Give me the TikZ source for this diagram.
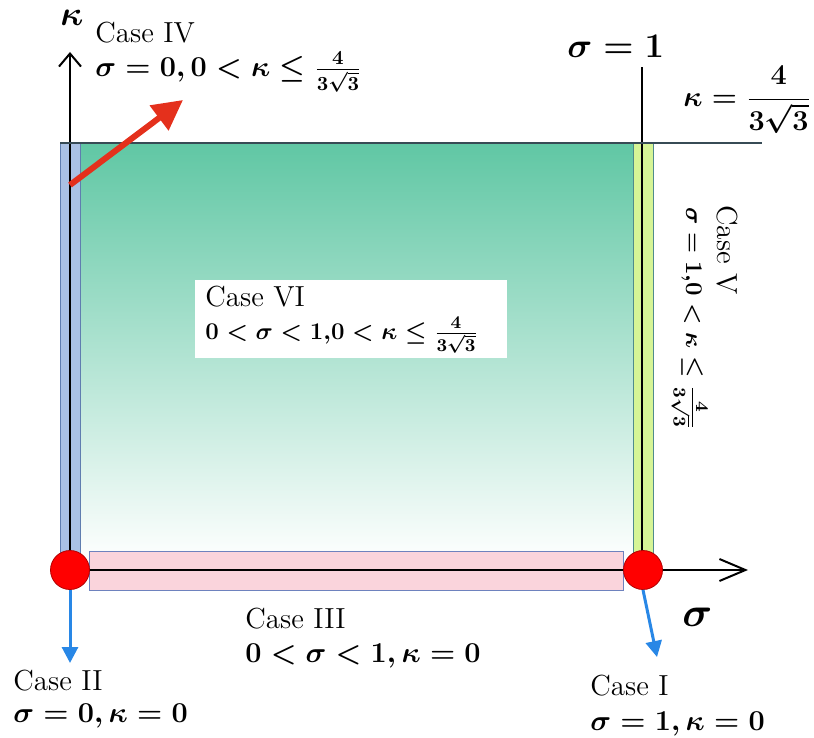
\documentclass[tikz,border=0pt]{standalone}
\usepackage{amsmath}
\usetikzlibrary{arrows.meta}
\definecolor{gtop}{RGB}{96,199,164}
\definecolor{bfill}{RGB}{170,193,228}
\definecolor{bdraw}{RGB}{95,125,175}
\definecolor{yfill}{RGB}{214,245,150}
\definecolor{ydraw}{RGB}{80,140,140}
\definecolor{pfill}{RGB}{250,212,220}
\definecolor{pdraw}{RGB}{110,130,190}
\definecolor{kcol}{RGB}{55,75,85}
\definecolor{redarrow}{RGB}{228,48,28}
\definecolor{bluearrow}{RGB}{40,135,230}
\newcommand{\bmath}[1]{$\boldsymbol{#1}$}
\begin{document}
\begin{tikzpicture}[x=0.5pt,y=-0.5pt,
  txt/.style={inner sep=0pt, anchor=base west, font=\fontsize{14.5}{17}\selectfont},
  stxt/.style={inner sep=0pt, anchor=base west, font=\fontsize{12.5}{15}\selectfont},
  axis/.style={line width=1pt, black},
  bstrip/.style={fill=bfill, draw=bdraw, line width=0.5pt},
  ystrip/.style={fill=yfill, draw=ydraw, line width=0.5pt},
  pstrip/.style={fill=pfill, draw=pdraw, line width=0.5pt},
  dot/.style={circle, fill=red, draw=red!70!black, line width=0.4pt, minimum size=19.5pt, inner sep=0pt},
  barrow/.style={bluearrow, line width=1.5pt, -{Triangle[length=8pt,width=8pt]}},
  rarrow/.style={redarrow, line width=3pt, -{Triangle[length=15pt,width=15pt]}}]
\useasboundingbox (0,0) rectangle (814,738);
% green region
\shade[top color=gtop, bottom color=white] (62,143) rectangle (648,562);
% strips
\draw[bstrip] (60,143) rectangle (80,565);
\draw[ystrip] (633,143) rectangle (653,565);
\draw[pstrip] (89,551) rectangle (623,590);
% axes and lines
\coordinate (O) at (70,570);
\coordinate (ytip) at (70,52);
\coordinate (xtip) at (748,570);
\coordinate (s1top) at (642,67);
\coordinate (s1bot) at (642,570);
\coordinate (kl) at (60,143);
\coordinate (kr) at (762,143);
\draw[axis, -{Straight Barb[length=6.5pt,width=11pt]}] (O) -- (ytip);
\draw[axis, -{Straight Barb[length=13pt,width=11pt]}] (O) -- (xtip);
\draw[axis] (s1bot) -- (s1top);
\draw[line width=1pt, kcol] (kl) -- (kr);
% red points
\node[dot] (p0) at (70,570) {};
\node[dot] (p1) at (643,570) {};
% arrows
\coordinate (c2tip) at (70,663);
\coordinate (c1tip) at (657,657);
\draw[barrow] (p0.south) -- (c2tip);
\draw[barrow] (p1.south) -- (c1tip);
\coordinate (rtail) at (70,185);
\coordinate (rtip) at (183,100);
\draw[rarrow] (rtail) -- (rtip);
% Case VI box
\node[fill=white, inner sep=0pt, minimum width=156pt, minimum height=39pt, anchor=north west] (c6box) at (195,280) {};
% labels
\node[inner sep=0pt, anchor=base west, font=\fontsize{16}{18}\selectfont] (klab) at (60,26) {\bmath{\kappa}};
\node[inner sep=0pt, anchor=base west, font=\fontsize{21}{24}\selectfont] (slab) at (682,626) {\bmath{\sigma}};
\node[txt] (c4t) at (95,43) {Case IV};
\node[txt] (c4f) at (95,77) {\bmath{\sigma=0,0<\kappa\le\frac{4}{3\sqrt{3}}}};
\node[inner sep=0pt, anchor=base west, font=\fontsize{18}{20}\selectfont] (s1lab) at (567,58) {\bmath{\sigma=1}};
\node[inner sep=0pt, anchor=west, font=\fontsize{15}{17}\selectfont] (klab2) at (683,100) {\bmath{\displaystyle\kappa=\frac{4}{3\sqrt{3}}}};
\node[txt] (c6t) at (205,306) {Case VI};
\node[stxt] (c6f) at (205,339) {\bmath{0<\sigma<1{,}0<\kappa\le\frac{4}{3\sqrt{3}}}};
\node[txt, rotate=-90] (c5t) at (717,205) {Case V};
\node[stxt, rotate=-90] (c5f) at (686,207) {\bmath{\sigma=1{,}0<\kappa\le\frac{4}{3\sqrt{3}}}};
\node[txt] (c3t) at (245,628) {Case III};
\node[txt] (c3f) at (245,662) {\bmath{0<\sigma<1,\kappa=0}};
\node[txt] (c2t) at (13,690) {Case II};
\node[txt] (c2f) at (13,722) {\bmath{\sigma=0,\kappa=0}};
\node[txt] (c1t) at (590,695) {Case I};
\node[txt] (c1f) at (590,730) {\bmath{\sigma=1,\kappa=0}};
\end{tikzpicture}
\end{document}
